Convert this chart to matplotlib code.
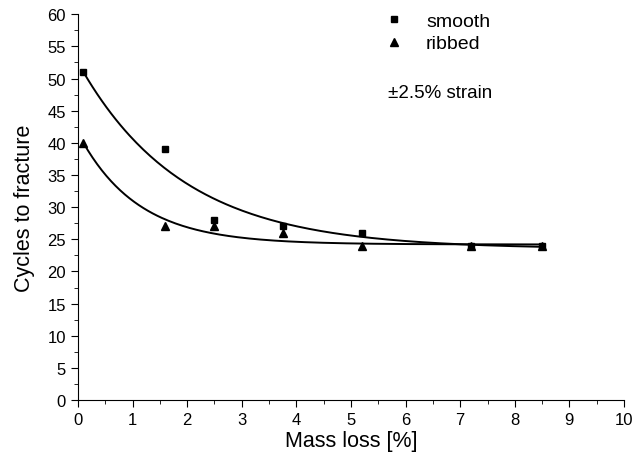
import numpy as np
import matplotlib
matplotlib.use("Agg")
import matplotlib.pyplot as plt
from matplotlib.ticker import MultipleLocator

plt.rcParams["font.family"] = ["Liberation Sans", "DejaVu Sans"]

# measured cycles to fracture vs mass loss
mass_loss = [0.1, 1.6, 2.5, 3.75, 5.2, 7.2, 8.5]
smooth = [51, 39, 28, 27, 26, 24, 24]
ribbed = [40, 27, 27, 26, 24, 24, 24]

# exponential decay fits: y = y0 + A * exp(-x / t)
smooth_fit = (23.5, 29.0, 1.9)
ribbed_fit = (24.2, 17.35, 1.07)


def decay(x, p):
    y0, a, t = p
    return y0 + a * np.exp(-x / t)


fig = plt.figure(figsize=(6.44, 4.6), dpi=100)
ax = fig.add_axes([0.121, 0.128, 0.848, 0.839])

xf = np.linspace(mass_loss[0], mass_loss[-1], 200)
ax.plot(xf, decay(xf, smooth_fit), color="black", lw=1.4)
ax.plot(xf, decay(xf, ribbed_fit), color="black", lw=1.4)

ax.plot(mass_loss, smooth, "s", color="black", ms=4.5, label="smooth")
ax.plot(mass_loss, ribbed, "^", color="black", ms=6, label="ribbed")

ax.text(5.68, 47.9, "±2.5% strain", fontsize=13.5, va="center")

ax.set_xlim(0, 10)
ax.set_ylim(0, 60)
ax.xaxis.set_major_locator(MultipleLocator(1))
ax.xaxis.set_minor_locator(MultipleLocator(0.5))
ax.yaxis.set_major_locator(MultipleLocator(5))
ax.yaxis.set_minor_locator(MultipleLocator(2.5))
ax.tick_params(which="major", direction="out", length=5, labelsize=12)
ax.tick_params(which="minor", direction="out", length=3)

for side in ["top", "right"]:
    ax.spines[side].set_visible(False)

ax.set_xlabel("Mass loss [%]", fontsize=15.5, labelpad=2)
ax.set_ylabel("Cycles to fracture", fontsize=15.5, labelpad=9)

ax.legend(loc="upper left", bbox_to_anchor=(0.52, 1.05), frameon=False,
          fontsize=14, handlelength=1.5, handletextpad=0.9, labelspacing=0.25)

fig.savefig("out.png", dpi=100)
